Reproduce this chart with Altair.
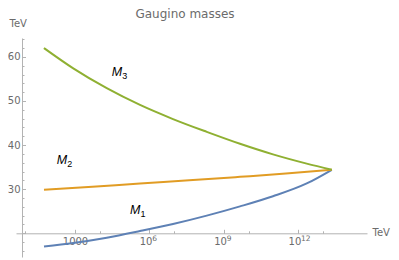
import altair as alt
import pandas as pd

# ---- data (x as log10 of scale in TeV) ----
series = ["M1", "M2", "M3"]
colors = ["#5e81b5", "#e19c24", "#8fb032"]

m1_exp = [1.75, 2.93, 4.28, 5.62, 6.95, 8.31, 9.65, 10.98, 12.34, 13.35]
m1_val = [17.0, 17.8, 19.0, 20.5, 22.1, 24.0, 26.1, 28.4, 31.3, 34.4]

m2_exp = [1.75, 3.70, 5.62, 7.60, 9.65, 11.50, 13.35]
m2_val = [29.85, 30.55, 31.3, 32.0, 32.8, 33.55, 34.4]

m3_exp = [1.75, 2.93, 4.28, 5.62, 6.95, 8.31, 9.65, 10.98, 12.34, 13.35]
m3_val = [62.0, 57.4, 52.9, 49.1, 45.9, 43.0, 40.3, 37.9, 35.8, 34.4]

# curve labels: "M" with subscript
label_series = ["M1", "M2", "M3"]
label_exp = [5.22, 2.26, 4.48]
label_val = [24.3, 35.7, 55.7]
label_main = ["M", "M", "M"]
label_sub = ["1", "2", "3"]

# x tick labels: 1000, 10^6, 10^9, 10^12
x_major = [1e3, 1e6, 1e9, 1e12]
x_major_base = ["1000", "10", "10", "10"]
x_major_power = ["", "6", "9", "12"]
x_minor = [1e1, 1e4, 1e7, 1e10, 1e13]
x_axis_at = 20  # y value where the horizontal axis crosses
y_major = [30, 40, 50, 60]
y_ticks = list(range(16, 65, 2))

title_text = "Gaugino masses"
unit = "TeV"

# ---- build tables ----
rows = []
for name, exps, vals in zip(series, [m1_exp, m2_exp, m3_exp], [m1_val, m2_val, m3_val]):
    for e, v in zip(exps, vals):
        rows.append({"series": name, "Q": 10 ** e, "M": v})
df = pd.DataFrame(rows)

lab = pd.DataFrame({
    "series": label_series,
    "Q": [10 ** e for e in label_exp],
    "M": label_val,
    "main": label_main,
    "sub": label_sub,
})

pw = pd.DataFrame({
    "Q": [v for v, p in zip(x_major, x_major_power) if p],
    "M": [x_axis_at for p in x_major_power if p],
    "p": [p for p in x_major_power if p],
})

W, H = 351, 219
x_scale = alt.Scale(type="log", domain=[10 ** 0.622, 10 ** 14.769], nice=False)
y_scale = alt.Scale(domain=[14.62, 64.28], nice=False, zero=False)

AX = "#b3b3b3"
LBL = "#6b6b6b"
FONT = "DejaVu Sans"

label_expr = " : ".join(
    f"datum.value === {v!r} ? '{t}'" for v, t in zip(x_major, x_major_base)
) + " : ''"
x_tick_vals = sorted(x_major + x_minor)
x_major_test = "indexof([" + ",".join(repr(v) for v in x_major) + "], datum.value) >= 0"
plain_test = f"datum.value === {x_major[0]!r}"

lines = alt.Chart(df).mark_line(strokeWidth=2, interpolate="monotone").encode(
    x=alt.X("Q:Q", scale=x_scale,
            axis=alt.Axis(orient="bottom", values=x_major, labelExpr=label_expr,
                          ticks=False, domain=True, domainColor=AX, domainWidth=1,
                          offset=-23.7, grid=False, labelFont=FONT, labelFontSize=10,
                          labelColor=LBL, labelPadding=3, labelOverlap=False,
                          labelFlush=False,
                          labelAlign={"condition": {"test": plain_test, "value": "center"},
                                      "value": "right"},
                          labelOffset={"condition": {"test": plain_test, "value": 0},
                                       "value": 2.5},
                          title=unit, titleFont=FONT, titleFontSize=10,
                          titleFontWeight="normal", titleColor=LBL,
                          titleAlign="left", titleBaseline="middle",
                          titleX=356, titleY=-1, titleAngle=0)),
    y=alt.Y("M:Q", scale=y_scale,
            axis=alt.Axis(orient="left", values=y_major, ticks=False, domain=True,
                          domainColor=AX, offset=-6, grid=False, labelFont=FONT,
                          labelFontSize=10, labelColor=LBL, labelPadding=2,
                          title=unit, titleFont=FONT, titleFontSize=10,
                          titleFontWeight="normal", titleColor=LBL,
                          titleAlign="left", titleBaseline="middle",
                          titleAngle=0, titleX=-13, titleY=-14.5)),
    color=alt.Color("series:N", scale=alt.Scale(domain=series, range=colors), legend=None),
)

main_txt = alt.Chart(lab).mark_text(
    font="Liberation Sans", fontStyle="italic", fontSize=12.5, align="left",
    baseline="alphabetic", color="black",
).encode(
    x=alt.X("Q:Q", scale=x_scale,
            axis=alt.Axis(orient="top", values=x_tick_vals, labels=False, domain=False,
                          grid=False, tickColor=AX, offset=-195.3, title=None,
                          tickSize={"condition": {"test": x_major_test, "value": 4},
                                    "value": 2.5})),
    y=alt.Y("M:Q", scale=y_scale,
            axis=alt.Axis(orient="right", values=y_ticks, labels=False, domain=False,
                          grid=False, tickColor=AX, offset=-345, title=None,
                          tickSize={"condition": {"test": "datum.value % 10 === 0", "value": 3.5},
                                    "value": 2})),
    text="main:N",
)

sub_txt = alt.Chart(lab).mark_text(
    font="Liberation Sans", fontSize=9, align="left", baseline="alphabetic", color="black",
    dx=10.5, dy=3,
).encode(
    x=alt.X("Q:Q", scale=x_scale, axis=None),
    y=alt.Y("M:Q", scale=y_scale, axis=None),
    text="sub:N",
)

pow_txt = alt.Chart(pw).mark_text(
    font=FONT, fontSize=7.5, align="left", baseline="alphabetic", color=LBL,
    dx=2.8, dy=8,
).encode(
    x=alt.X("Q:Q", scale=x_scale, axis=None),
    y=alt.Y("M:Q", scale=y_scale, axis=None),
    text="p:N",
)

chart = alt.layer(lines, main_txt, sub_txt, pow_txt).resolve_axis(
    x="independent", y="independent"
).properties(
    width=W, height=H,
    title=alt.TitleParams(title_text, font=FONT, fontSize=12, fontWeight="normal",
                          color=LBL, anchor="middle", frame="group", dx=-6.5, dy=17,
                          baseline="alphabetic", offset=6),
    autosize=alt.AutoSizeParams(type="none"),
    padding={"left": 8, "top": 30, "right": 24, "bottom": 3},
).configure_view(stroke=None)

chart.save("out.html", embed_options={"renderer": "svg", "actions": False})
